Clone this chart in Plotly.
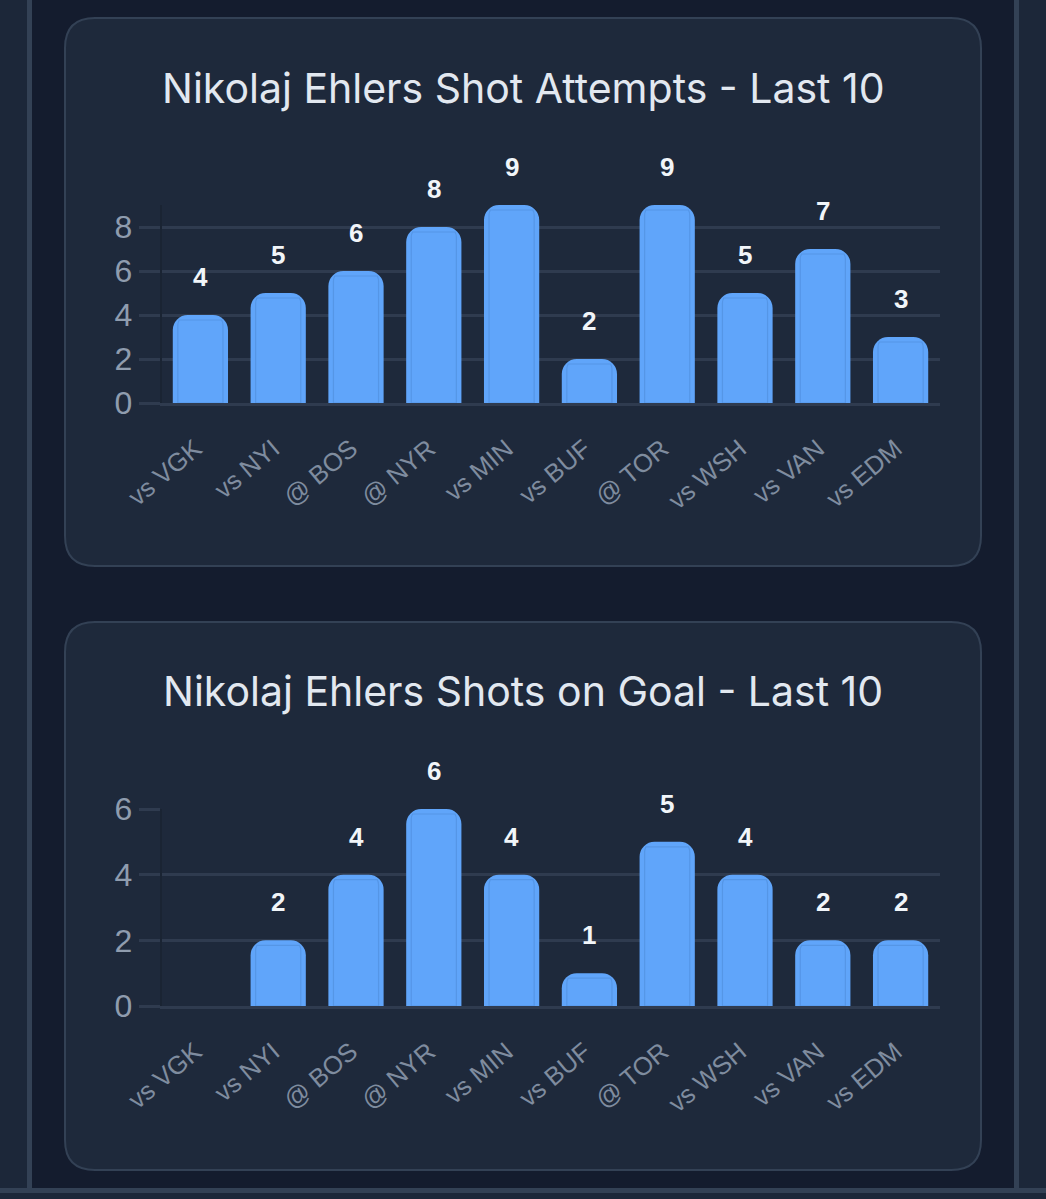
import plotly.graph_objects as go

W, H = 1046, 1199

opponents = ["vs VGK", "vs NYI", "@ BOS", "@ NYR", "vs MIN", "vs BUF", "@ TOR", "vs WSH", "vs VAN", "vs EDM"]
shot_attempts = [4, 5, 6, 8, 9, 2, 9, 5, 7, 3]
shots_on_goal = [0, 2, 4, 6, 4, 1, 5, 4, 2, 2]
title_attempts = "Nikolaj Ehlers Shot Attempts - Last 10"
title_shots = "Nikolaj Ehlers Shots on Goal - Last 10"

GRID = "#2f3b4f"
BAR = "#60a5fa"
BAR_EDGE = "#5596e6"


def px(x):
    return x / W


def py(y):
    return 1 - y / H


def card_path(x0, y0, x1, y1, r):
    # rounded rectangle in paper coordinates
    pts = [
        f"M {px(x0 + r)} {py(y0)}", f"L {px(x1 - r)} {py(y0)}",
        f"Q {px(x1)} {py(y0)} {px(x1)} {py(y0 + r)}", f"L {px(x1)} {py(y1 - r)}",
        f"Q {px(x1)} {py(y1)} {px(x1 - r)} {py(y1)}", f"L {px(x0 + r)} {py(y1)}",
        f"Q {px(x0)} {py(y1)} {px(x0)} {py(y1 - r)}", f"L {px(x0)} {py(y0 + r)}",
        f"Q {px(x0)} {py(y0)} {px(x0 + r)} {py(y0)}", "Z",
    ]
    return " ".join(pts)


def rect(x0, y0, x1, y1, color):
    return dict(type="rect", xref="paper", yref="paper", layer="below",
                x0=px(x0), x1=px(x1), y0=py(y0), y1=py(y1),
                fillcolor=color, line_width=0)


def card(y0, y1):
    return dict(type="path", xref="paper", yref="paper", layer="below",
                path=card_path(65, y0, 981, y1, 30),
                fillcolor="#1e293b", line=dict(color="#334155", width=2))


def add_bars(fig, values, xa, ya, inset):
    fig.add_trace(go.Bar(x=opponents, y=values, xaxis=xa, yaxis=ya, width=0.71,
                         marker=dict(color=BAR, cornerradius=15, line_width=0),
                         hoverinfo="skip", showlegend=False))
    # thin inner outline seen inside every bar
    inner = [v - inset if v > 0 else None for v in values]
    fig.add_trace(go.Bar(x=opponents, y=inner, xaxis=xa, yaxis=ya, width=0.58,
                         marker=dict(color=BAR, cornerradius=10,
                                     line=dict(color=BAR_EDGE, width=1.2)),
                         hoverinfo="skip", showlegend=False))


def value_labels(values, xa, ya):
    out = []
    for name, v in zip(opponents, values):
        if v == 0:
            continue
        out.append(dict(x=name, y=v, xref=xa, yref=ya, text=str(v), showarrow=False,
                        yanchor="middle", yshift=38,
                        font=dict(family="Liberation Sans", size=26, color="#f1f5f9", weight="bold")))
    return out


def title_note(text, y):
    return dict(x=px(523), y=py(y), xref="paper", yref="paper", text=text, showarrow=False,
                xanchor="center", yanchor="middle",
                font=dict(family="Inter", size=41, color="#e2e8f0"))


x_axis = dict(type="category", categoryorder="array", categoryarray=opponents,
              tickangle=-40, ticks="", ticklabelstandoff=18, ticklabelshift=-5, showgrid=False,
              showline=True, linecolor=GRID, linewidth=2.5, zeroline=False, fixedrange=True,
              tickfont=dict(family="Liberation Sans", size=25.5, color="#7f8c9f"))


def y_axis(top, y_bottom, y_top, anchor):
    return dict(range=[0, top], dtick=2, domain=[py(y_bottom), py(y_top)], anchor=anchor,
                showgrid=True, gridcolor=GRID, gridwidth=2.5, zeroline=False,
                showline=True, linecolor="#1a2433", linewidth=1.5,
                ticks="outside", ticklen=21, tickwidth=2.5, tickcolor=GRID,
                ticklabelstandoff=0, fixedrange=True,
                tickfont=dict(family="Liberation Sans", size=32, color="#8f9cae"))


fig = go.Figure()
add_bars(fig, shot_attempts, "x", "y", 5 / 22)
add_bars(fig, shots_on_goal, "x2", "y2", 5 / 32.9)

fig.update_layout(
    width=W, height=H, margin=dict(l=0, r=0, t=0, b=0, autoexpand=False),
    paper_bgcolor="#1c2739", plot_bgcolor="rgba(0,0,0,0)",
    barmode="overlay", showlegend=False,
    xaxis=dict(x_axis, domain=[px(161.5), px(939.5)], anchor="y"),
    yaxis=y_axis(9, 403, 205, "x"),
    xaxis2=dict(x_axis, domain=[px(161.5), px(939.5)], anchor="y2"),
    yaxis2=y_axis(6, 1006, 809, "x2"),
    shapes=[
        rect(32, 0, 1014, 1188, "#141c2e"),
        rect(27, 0, 32, 1188, "#334155"),
        rect(1014, 0, 1019, 1188, "#334155"),
        rect(0, 1188, 1046, 1193, "#334155"),
        card(18, 566),
        card(622, 1170),
    ],
    annotations=[title_note(title_attempts, 88), title_note(title_shots, 691)]
    + value_labels(shot_attempts, "x", "y") + value_labels(shots_on_goal, "x2", "y2"),
)

fig.write_html("out.html", config=dict(displayModeBar=False),
               post_script="document.body.style.margin='0';document.body.style.background='#1c2739';")
